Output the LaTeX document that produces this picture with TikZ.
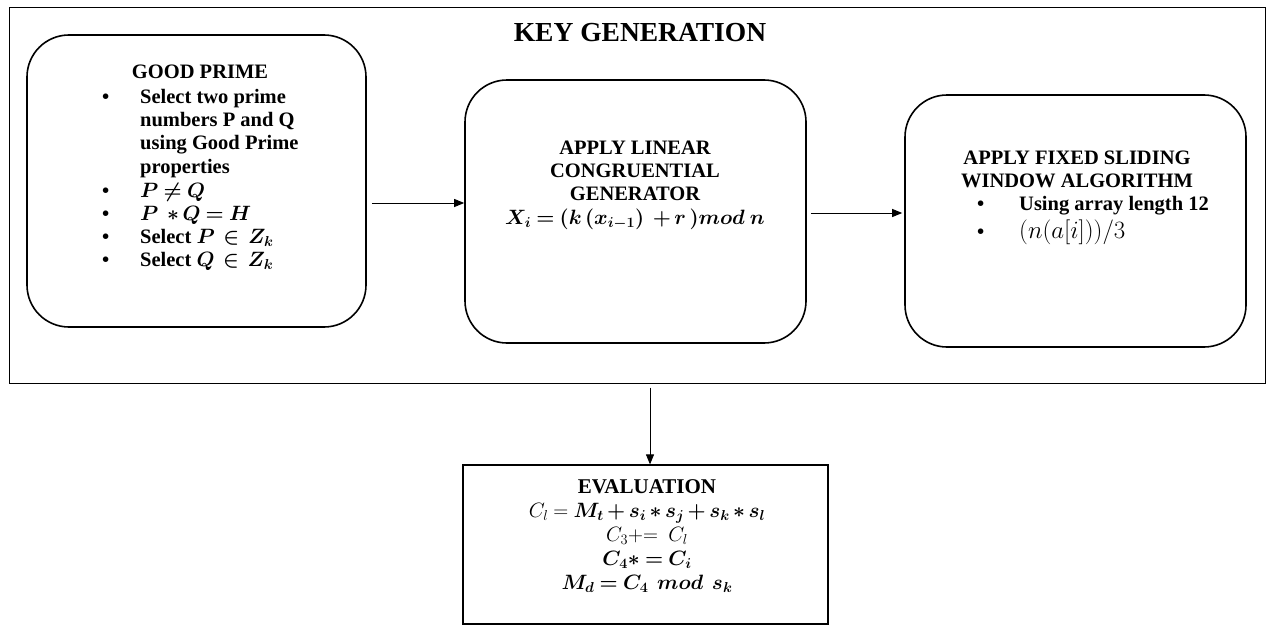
\documentclass[tikz,border=0pt]{standalone}
\usepackage{amsmath,bm}
\usepackage{fontspec}
\setmainfont{Liberation Serif}
\usetikzlibrary{arrows.meta,calc}
\newcommand{\tightmath}{\medmuskip=3mu plus 1mu\thickmuskip=4.5mu plus 2mu}
\begin{document}
\begin{tikzpicture}[x=1pt,y=-1pt,
  rbox/.style={draw,line width=1.6pt,rounded corners=42pt,inner sep=0pt},
  sbox/.style={draw,line width=1.2pt,inner sep=0pt},
  arr/.style={-{Triangle[length=10pt,width=8pt]},line width=0.9pt},
  txt/.style={inner sep=0pt,font=\fontsize{20.5}{23.2}\selectfont\bfseries\tightmath}]
\useasboundingbox (0,0) rectangle (1273,626);
\node[sbox,line width=1pt,minimum width=1256pt,minimum height=375pt] (outer) at (637,195.5) {};
\node[txt,font=\fontsize{27.5}{30}\selectfont\bfseries] (title) at (640,33) {KEY GENERATION};
\node[rbox,minimum width=339pt,minimum height=292pt] (box1) at (196.5,181) {};
\node[rbox,minimum width=341pt,minimum height=263pt] (box2) at (635.5,211.5) {};
\node[rbox,minimum width=341pt,minimum height=252pt] (box3) at (1075.5,221) {};
\node[sbox,minimum width=365pt,minimum height=159pt] (eval) at (645.5,544.5) {};
% box1 text
\node[txt] (gp) at (200,72) {GOOD PRIME};
\node[txt,anchor=north west] (gplist) at (102,87) {\begin{tabular}{@{}p{38pt}@{}l@{}}
\textbullet & Select two prime\\
 & numbers P and Q\\
 & using Good Prime\\
 & properties\\[1pt]
\textbullet & $\bm{P \neq Q}$\\
\textbullet & $\bm{P \;* Q = H}$\\
\textbullet & Select $\bm{P \,\in\, Z_k}$\\
\textbullet & Select $\bm{Q \,\in\, Z_k}$
\end{tabular}};
% box2 text
\node[txt,anchor=north] (lcg) at (635,138) {\begin{tabular}{@{}c@{}}
APPLY LINEAR\\ CONGRUENTIAL\\ GENERATOR\\
$\bm{X_i = (k\,(x_{i-1})\ + r\,)mod\; n}$
\end{tabular}};
% box3 text
\node[txt,anchor=north] (fsw) at (1077,148) {\begin{tabular}{@{}c@{}}
APPLY FIXED SLIDING\\ WINDOW ALGORITHM
\end{tabular}};
\node[txt,anchor=north west] (fswlist) at (977,194) {\begin{tabular}{@{}p{42pt}@{}l@{}}
\textbullet & Using array length 12\\[2pt]
\textbullet & {\fontsize{27}{28}\selectfont $(n(a[i]))/3$}
\end{tabular}};
% evaluation text
\node[txt,anchor=north,font=\fontsize{21}{23.8}\selectfont\bfseries\tightmath] (ev) at (647,477) {\begin{tabular}{@{}c@{}}
EVALUATION\\
$C_l = \bm{M_t + s_i * s_j + s_k * s_l}$\\
$C_3{+}{=}\;\; C_l$\\
$\bm{C_4 \mathbin{*}= C_i}$\\
$\bm{M_d = C_4\;\, m o d\;\, s_k}$
\end{tabular}};
% connectors
\draw[arr] ([xshift=5pt,yshift=-22pt]box1.east) -- ([yshift=8.5pt]box2.west);
\draw[arr] ([xshift=4pt,yshift=-1.5pt]box2.east) -- ([xshift=-2pt,yshift=8pt]box3.west);
\draw[arr] ([xshift=13pt,yshift=-4pt]outer.south) coordinate (s) -- (s |- eval.north);
\end{tikzpicture}
\end{document}
